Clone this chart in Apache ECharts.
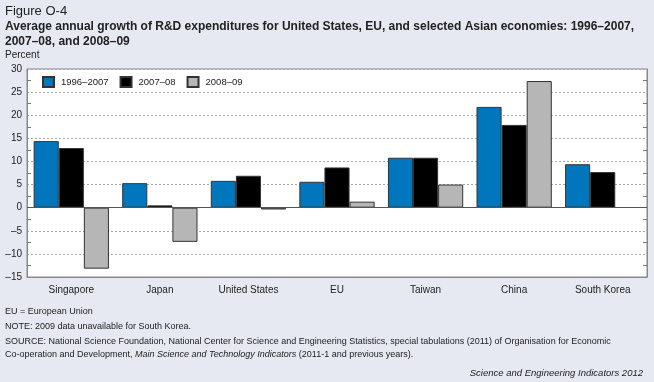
<!DOCTYPE html>
<html>
<head>
<meta charset="utf-8">
<script src="https://cdn.jsdelivr.net/npm/echarts@6/dist/echarts.min.js"></script>
<style>
html,body{margin:0;padding:0;background:#e6e9f2;}
#chart{width:654px;height:382px;}
</style>
</head>
<body>
<div id="chart"></div>
<script>
var categories = ['Singapore', 'Japan', 'United States', 'EU', 'Taiwan', 'China', 'South Korea'];
var seriesNames = ['1996–2007', '2007–08', '2008–09'];
var growth1996_2007 = [14.4, 5.3, 5.8, 5.6, 10.8, 21.8, 9.4];
var growth2007_08 = [12.9, 0.5, 6.9, 8.7, 10.8, 17.9, 7.7];
var growth2008_09 = [-13.2, -7.4, -0.4, 1.3, 5.0, 27.4, null];
var yTicks = [-15, -10, -5, 0, 5, 10, 15, 20, 25, 30];

var colors = ['#0077bd', '#000000', '#b6b6b6'];
var font = 'Liberation Sans, Arial, sans-serif';

var chart = echarts.init(document.getElementById('chart'), null, {renderer: 'canvas'});

var barStyle = function (c) {
  return {color: c, borderColor: '#333', borderWidth: 1};
};

chart.setOption({
  backgroundColor: '#e6e9f2',
  animation: false,
  textStyle: {fontFamily: font},
  graphic: [
    {type: 'text', left: 5, top: 5, style: {text: 'Figure O-4', font: '13px ' + font, fill: '#222'}},
    {type: 'text', left: 5, top: 19, style: {text: 'Average annual growth of R&D expenditures for United States, EU, and selected Asian economies: 1996–2007,\n2007–08, and 2008–09', font: 'bold 12px ' + font, fill: '#222', lineHeight: 15}},
    {type: 'text', left: 5, top: 50, style: {text: 'Percent', font: '10px ' + font, fill: '#222'}},
    {type: 'text', left: 5, top: 307, style: {text: 'EU = European Union', font: '9px ' + font, fill: '#222'}},
    {type: 'text', left: 5, top: 322, style: {text: 'NOTE: 2009 data unavailable for South Korea.', font: '9px ' + font, fill: '#222'}},
    {type: 'text', left: 5, top: 337, style: {
      rich: {n: {font: '9px ' + font, fill: '#222', lineHeight: 13}, i: {font: 'italic 9px ' + font, fill: '#222', lineHeight: 13}},
      text: '{n|SOURCE: National Science Foundation, National Center for Science and Engineering Statistics, special tabulations (2011) of Organisation for Economic}\n{n|Co-operation and Development, }{i|Main Science and Technology Indicators}{n| (2011-1 and previous years).}'
    }},
    {type: 'text', right: 11, top: 368, style: {text: 'Science and Engineering Indicators 2012', font: 'italic 9.5px ' + font, fill: '#222'}}
  ],
  legend: {
    left: 42, top: 76, padding: 0,
    itemWidth: 11, itemHeight: 10, itemGap: 11,
    data: seriesNames,
    textStyle: {fontSize: 9.5, color: '#222', padding: [0, 0, 0, 2]},
    icon: 'rect'
  },
  grid: {left: 27, right: 7, top: 69, bottom: 105, show: true, backgroundColor: '#ffffff', borderColor: '#888', borderWidth: 1},
  xAxis: {
    type: 'category',
    data: categories,
    axisLine: {onZero: false, lineStyle: {color: '#888'}},
    axisTick: {show: false},
    axisLabel: {fontSize: 10, color: '#222', margin: 8}
  },
  yAxis: [
    {
      type: 'value', min: yTicks[0], max: yTicks[yTicks.length - 1], interval: 5,
      axisLine: {show: true, lineStyle: {color: '#888'}},
      axisTick: {show: false, inside: true},
      minorTick: {show: true, splitNumber: 2, length: 4, lineStyle: {color: '#777'}},
      axisLabel: {fontSize: 10, color: '#222', margin: 5, formatter: function (v) { return String(v).replace('-', '–'); }},
      splitLine: {show: true, lineStyle: {color: '#aaa', type: [2, 2], width: 1}}
    },
    {
      type: 'value', position: 'right', min: yTicks[0], max: yTicks[yTicks.length - 1], interval: 5,
      axisLine: {show: true, lineStyle: {color: '#888'}},
      axisTick: {show: false, inside: true},
      minorTick: {show: true, splitNumber: 2, length: 4, lineStyle: {color: '#777'}},
      axisLabel: {show: false},
      splitLine: {show: false}
    }
  ],
  series: [
    {name: seriesNames[0], type: 'bar', data: growth1996_2007, barGap: 0, barCategoryGap: '15%', itemStyle: barStyle(colors[0]),
     markLine: {silent: true, symbol: 'none', label: {show: false}, lineStyle: {color: '#555', type: 'solid', width: 1}, data: [{yAxis: 0}]}},
    {name: seriesNames[1], type: 'bar', data: growth2007_08, barGap: 0, barCategoryGap: '15%', itemStyle: barStyle(colors[1])},
    {name: seriesNames[2], type: 'bar', data: growth2008_09, barGap: 0, barCategoryGap: '15%', itemStyle: barStyle(colors[2])}
  ]
});
</script>
</body>
</html>
